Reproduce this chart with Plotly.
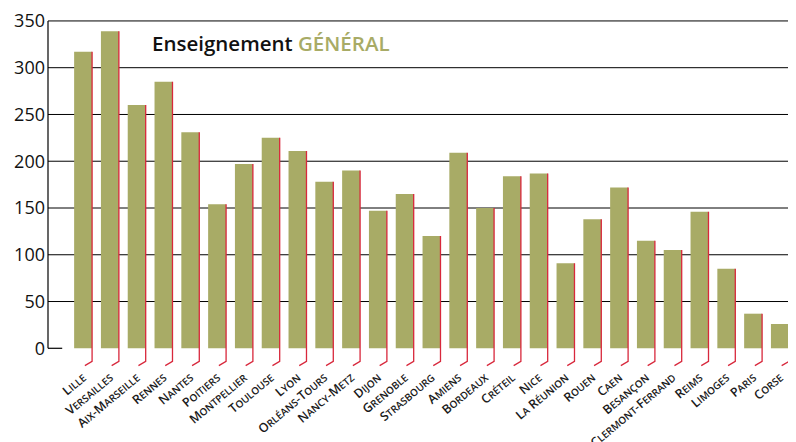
import plotly.graph_objects as go

academies = ["Lille", "Versailles", "Aix-Marseille", "Rennes", "Nantes", "Poitiers",
             "Montpellier", "Toulouse", "Lyon", "Orléans-Tours", "Nancy-Metz", "Dijon",
             "Grenoble", "Strasbourg", "Amiens", "Bordeaux", "Créteil", "Nice",
             "La Réunion", "Rouen", "Caen", "Besançon", "Clermont-Ferrand", "Reims",
             "Limoges", "Paris", "Corse"]
values = [317, 339, 260, 285, 231, 154, 197, 225, 211, 178, 190, 147, 165, 120, 209,
          150, 184, 187, 91, 138, 172, 115, 105, 146, 85, 37, 26]
y_ticks = [0, 50, 100, 150, 200, 250, 300, 350]

BAR_W = 0.67
OLIVE = "#a8ab66"
RED = "#d8283c"
FONT = "Open Sans, sans-serif"


def small_caps(name, small=10):
    out = []
    buf = ""
    prev = None
    for ch in name:
        start = prev is None or prev in " -"
        if start or not ch.isalpha():
            if buf:
                out.append(f"<span style='font-size:{small}px'>{buf}</span>")
                buf = ""
            out.append(ch.upper())
        else:
            buf += ch.upper()
        prev = ch
    if buf:
        out.append(f"<span style='font-size:{small}px'>{buf}</span>")
    return "".join(out)


idx = list(range(len(academies)))

fig = go.Figure()
fig.add_trace(go.Bar(x=idx, y=values, width=BAR_W, marker=dict(color=OLIVE, line=dict(width=0)),
                     hoverinfo="skip"))

# red leader lines: right edge of bar down below axis then diagonal to label
lx, ly = [], []
for i, v in zip(idx, values):
    xr = i + BAR_W / 2
    lx += [xr, xr, xr - 0.27, None]
    ly += [v, -14, -18.5, None]
fig.add_trace(go.Scatter(x=lx, y=ly, mode="lines", line=dict(color=RED, width=1.3),
                         hoverinfo="skip"))

shapes = []
for t in y_ticks[1:]:
    shapes.append(dict(type="line", xref="paper", yref="y", x0=0, x1=1, y0=t, y1=t,
                       line=dict(color="black", width=1), layer="below"))
shapes.append(dict(type="line", xref="paper", yref="y", x0=0, x1=0, y0=y_ticks[0], y1=y_ticks[-1],
                   line=dict(color="black", width=1.2)))
shapes.append(dict(type="line", xref="paper", yref="y", x0=0, x1=0.019, y0=y_ticks[0], y1=y_ticks[0],
                   line=dict(color="black", width=1.2)))

fig.update_layout(
    width=788, height=434,
    margin=dict(l=40, r=0, t=12, b=75),
    paper_bgcolor="white", plot_bgcolor="white",
    showlegend=False,
    shapes=shapes,
    xaxis=dict(range=[-1.31, 26.6], tickvals=idx, automargin=False,
               ticktext=[small_caps(a) for a in academies],
               tickangle=-40, showgrid=False, zeroline=False, showline=False,
               ticks="", tickfont=dict(family=FONT, size=12.5, color="#1a1a1a", weight=600)),
    yaxis=dict(range=[-20, 351], tickvals=y_ticks, showgrid=False, zeroline=False,
               showline=False, ticks="", ticklabelstandoff=2, automargin=False,
               tickfont=dict(family=FONT, size=18, color="#111", weight=500)),
    annotations=[dict(xref="paper", yref="paper", x=0.136, y=0.933, xanchor="left",
                      yanchor="middle", showarrow=False,
                      text=f"Enseignement <span style='color:{OLIVE}'>GÉNÉRAL</span>",
                      font=dict(family=FONT, size=20.5, color="#111", weight=600))],
)

fig.write_html("out.html")
